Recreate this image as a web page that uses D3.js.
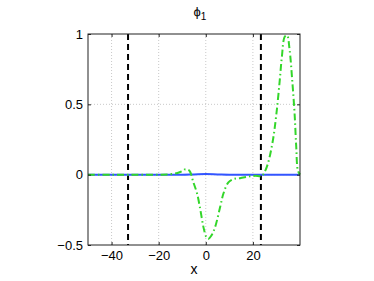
<!DOCTYPE html>
<html><head><meta charset="utf-8">
<script src="https://cdn.jsdelivr.net/npm/d3@7"></script>
<style>body{margin:0;background:#fff}svg{display:block}text{font-family:"Liberation Sans",Arial,sans-serif}</style>
</head><body><svg id="c" width="374" height="281"></svg>
<script>
const xTicks=[-40,-20,0,20];
const yTicks=[-0.5,0,0.5,1];
const yTickLabels=["\u22120.5","0","0.5","1"];
const xTickLabels=["\u221240","\u221220","0","20"];
const vLines=[-33,23.4];
const greenX=[-50,-40,-30,-20,-15,-12,-10,-8.6,-7,-5.3,-3.7,-2.3,-0.9,0.3,1.2,2.5,4,6.1,7.5,9.6,12,14.5,18.7,21,23.7,25,26.4,28.5,30,31.4,32.3,33.5,34.5,35.6,36.7,37.7,38.4,39.1,40];
const greenY=[0,0,0,0,0.003,0.012,0.025,0.039,0.03,-0.053,-0.134,-0.25,-0.38,-0.445,-0.455,-0.43,-0.37,-0.23,-0.134,-0.055,-0.03,-0.025,-0.012,-0.008,-0.01,0.02,0.08,0.245,0.435,0.67,0.837,0.98,0.99,0.885,0.67,0.435,0.198,0.03,0];
const blueX=[-50,-10,-5,0,5,10,40];
const blueY=[0,0,0.002,0.004,0.002,0,0];

const svg=d3.select("#c");
const L=88,R=300,T=34,B=245;
const x=d3.scaleLinear().domain([-50,40]).range([L,R]);
const y=d3.scaleLinear().domain([-0.5,1]).range([B,T]);
const g=svg.append("g");
g.selectAll(".gx").data(xTicks).enter().append("line").attr("x1",d=>x(d)).attr("x2",d=>x(d)).attr("y1",T).attr("y2",B).attr("stroke","#bbb").attr("stroke-width",0.8).attr("stroke-dasharray","1,2");
g.selectAll(".gy").data(yTicks.slice(1,3)).enter().append("line").attr("y1",d=>y(d)).attr("y2",d=>y(d)).attr("x1",L).attr("x2",R).attr("stroke","#bbb").attr("stroke-width",0.8).attr("stroke-dasharray","1,2");
g.selectAll(".vl").data(vLines).enter().append("line").attr("x1",d=>x(d)).attr("x2",d=>x(d)).attr("y1",T).attr("y2",B).attr("stroke","#000").attr("stroke-width",2).attr("stroke-dasharray","6,4");
const line=d3.line().curve(d3.curveMonotoneX);
g.append("path").attr("d",line(blueX.map((d,i)=>[x(d),y(blueY[i])]))).attr("fill","none").attr("stroke","#3355ff").attr("stroke-width",2);
const gl=d3.line().curve(d3.curveCatmullRom);
g.append("path").attr("d",gl(greenX.map((d,i)=>[x(d),y(greenY[i])]))).attr("fill","none").attr("stroke","#33d62a").attr("stroke-width",2).attr("stroke-dasharray","7,3,1.5,3");
g.append("rect").attr("x",L).attr("y",T).attr("width",R-L).attr("height",B-T).attr("fill","none").attr("stroke","#222").attr("stroke-width",1);
svg.append("g").attr("transform",`translate(0,${B})`).call(d3.axisBottom(x).tickValues(xTicks).tickSize(-3).tickPadding(6).tickFormat((d,i)=>xTickLabels[i]));
svg.append("g").attr("transform",`translate(${L},0)`).call(d3.axisLeft(y).tickValues(yTicks).tickSize(-3).tickPadding(5).tickFormat((d,i)=>yTickLabels[i]));
svg.append("g").attr("transform",`translate(0,${T})`).call(d3.axisTop(x).tickValues(xTicks).tickSize(-3).tickFormat(""));
svg.append("g").attr("transform",`translate(${R},0)`).call(d3.axisRight(y).tickValues(yTicks).tickSize(-3).tickFormat(""));
svg.selectAll(".domain").remove();
svg.selectAll(".tick line").attr("stroke","#222");
svg.selectAll(".tick text").attr("font-size",13).attr("fill","#000").style("font-family","Liberation Sans, Arial, sans-serif");
svg.append("text").attr("x",(L+R)/2).attr("y",274).attr("text-anchor","middle").attr("font-size",14).text("x");
const t=svg.append("text").attr("x",(L+R)/2+6).attr("y",16).attr("text-anchor","middle").attr("font-size",13);
t.append("tspan").text("\u03d5");
t.append("tspan").attr("font-size",10).attr("dy",4).text("1");
</script></body></html>
